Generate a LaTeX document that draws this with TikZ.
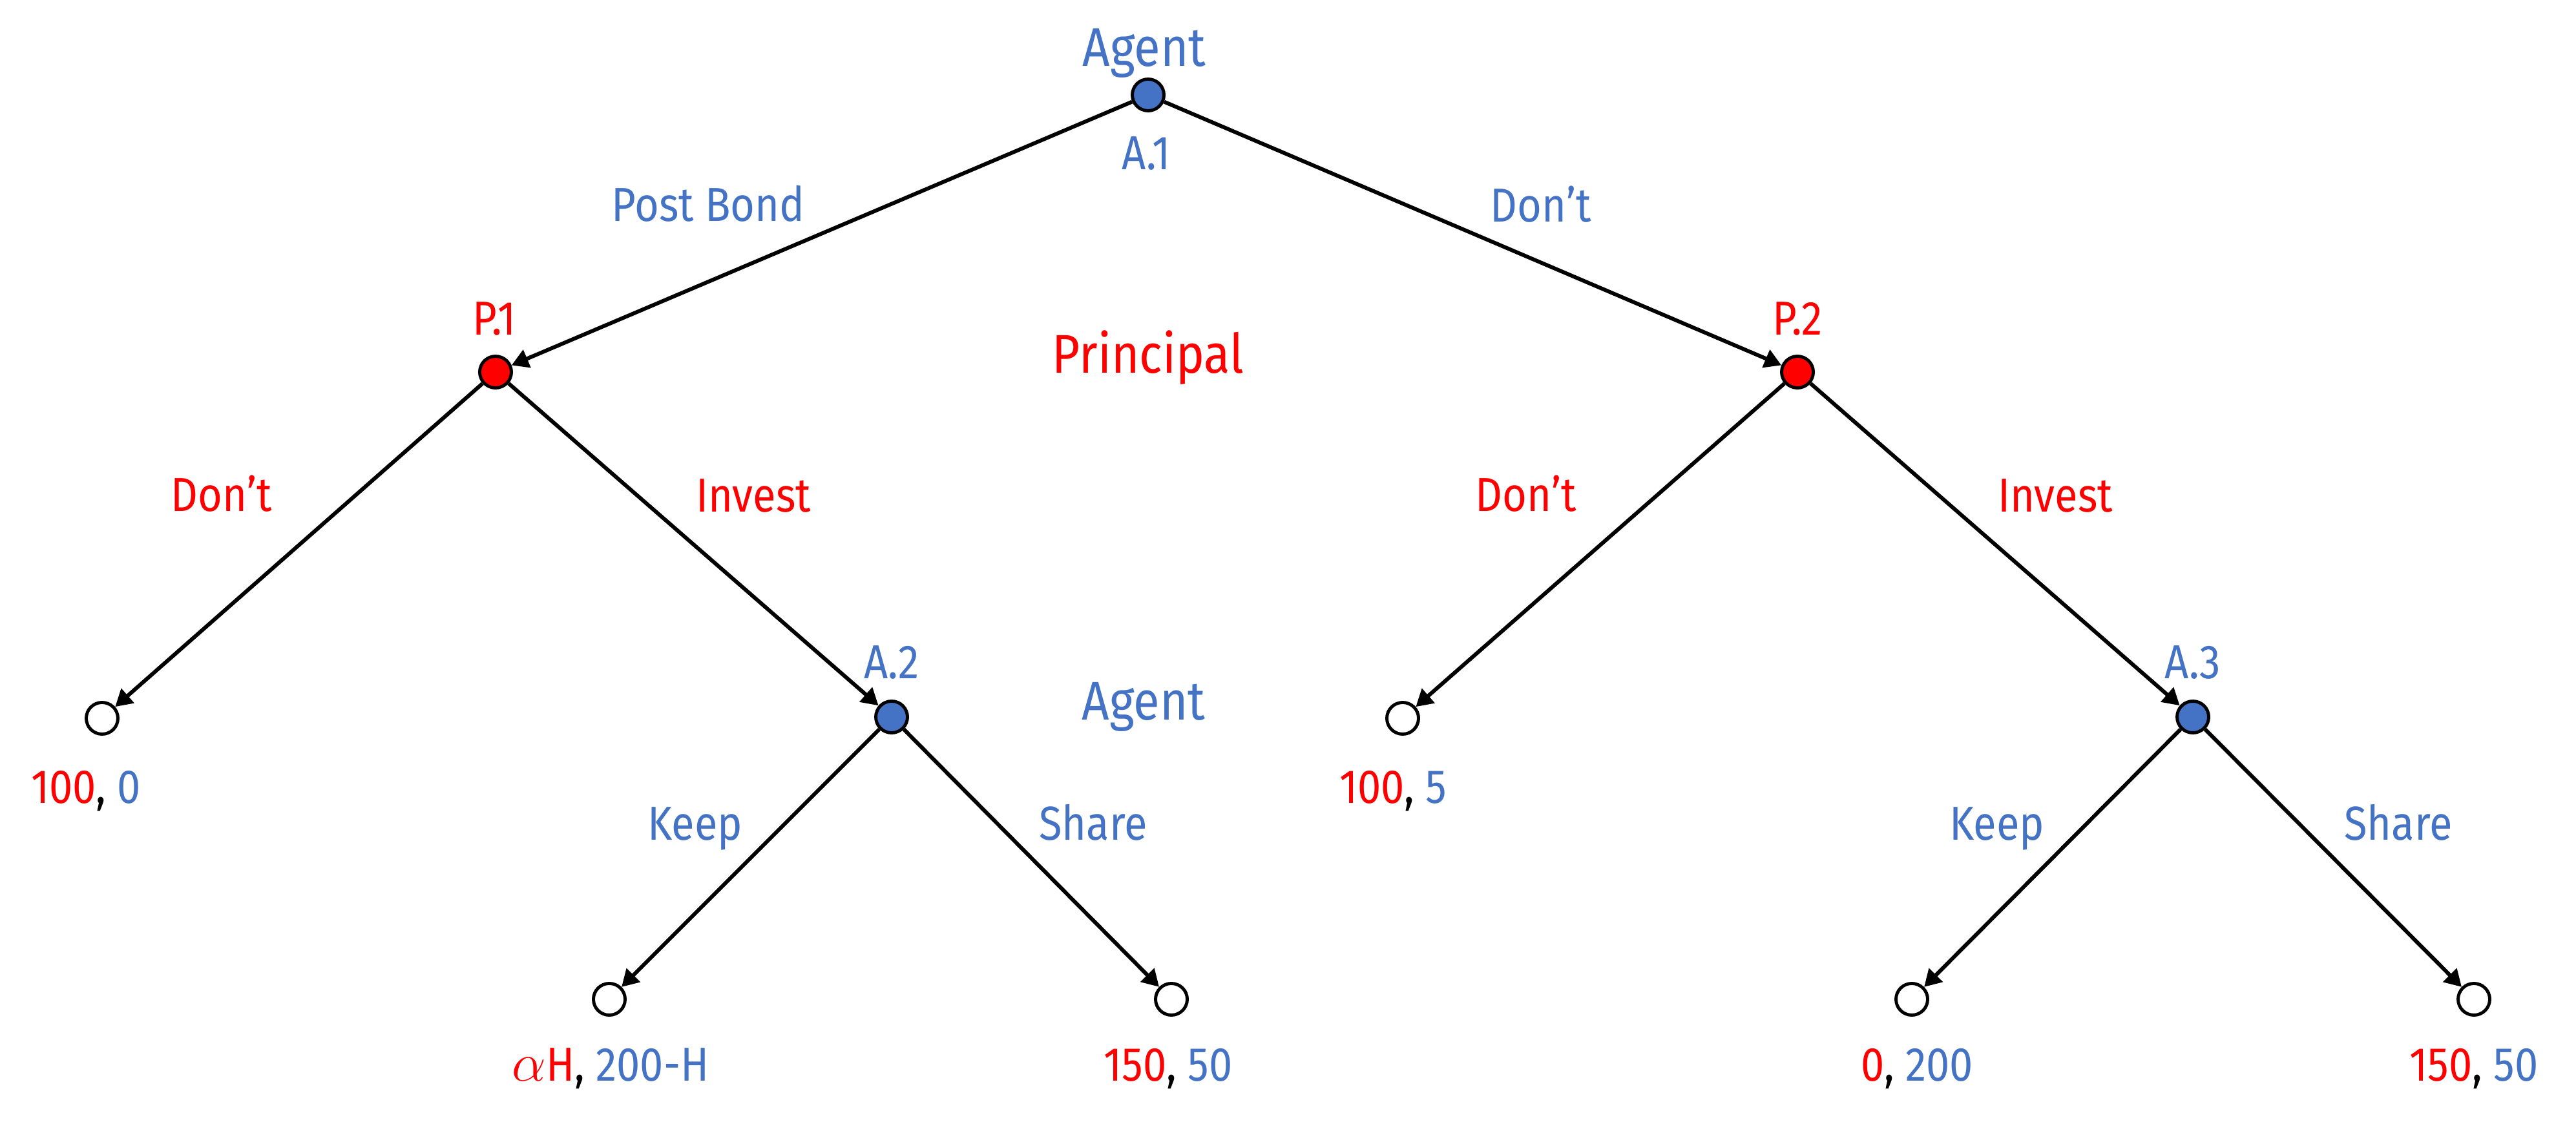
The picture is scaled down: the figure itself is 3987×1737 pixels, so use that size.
\documentclass[tikz,border=0pt]{standalone}
\usepackage{fontspec}
\setmainfont[FakeStretch=0.88]{Fira Sans}
\usetikzlibrary{arrows.meta}
\definecolor{ablue}{HTML}{4472C4}
\definecolor{pred}{HTML}{FF0000}
\begin{document}
\begin{tikzpicture}[x=0.01cm,y=-0.01cm,
  dec/.style={circle,draw=black,line width=1.4pt,minimum size=0.49cm,inner sep=0pt},
  anode/.style={dec,fill=ablue},
  pnode/.style={dec,fill=pred},
  leaf/.style={dec,fill=white},
  move/.style={line width=1.7pt,-{Triangle[length=0.26cm,width=0.29cm]}},
  lbl/.style={anchor=base,inner sep=0pt,font=\fontsize{21}{25}\selectfont},
  big/.style={anchor=base,inner sep=0pt,font=\fontsize{24}{29}\selectfont},
]
\useasboundingbox (0,0) rectangle (3987,1737);
% decision nodes
\node[anode] (A1) at (1777,147) {};
\node[pnode] (P1) at (767,576) {};
\node[pnode] (P2) at (2782,576) {};
\node[anode] (A2) at (1380,1110) {};
\node[anode] (A3) at (3394,1110) {};
% terminal nodes
\node[leaf] (L1) at (158,1112) {};
\node[leaf] (L2) at (2171,1112) {};
\node[leaf] (L3) at (943,1547) {};
\node[leaf] (L4) at (1813,1547) {};
\node[leaf] (L5) at (2959,1547) {};
\node[leaf] (L6) at (3829,1547) {};
% moves
\draw[move] (A1) -- (P1);
\draw[move] (A1) -- (P2);
\draw[move] (P1) -- (L1);
\draw[move] (P1) -- (A2);
\draw[move] (P2) -- (L2);
\draw[move] (P2) -- (A3);
\draw[move] (A2) -- (L3);
\draw[move] (A2) -- (L4);
\draw[move] (A3) -- (L5);
\draw[move] (A3) -- (L6);
% player labels
\node[big,text=ablue] (tAgent1) at (1771,103) {Agent};
\node[big,text=pred] (tPrin) at (1777,578) {Principal};
\node[big,text=ablue] (tAgent2) at (1770,1114) {Agent};
% node labels
\node[lbl,text=ablue] (tA1) at (1774,263) {A.1};
\node[lbl,text=pred] (tP1) at (765,519) {P.1};
\node[lbl,text=pred] (tP2) at (2782,519) {P.2};
\node[lbl,text=ablue] (tA2) at (1380,1050) {A.2};
\node[lbl,text=ablue] (tA3) at (3394,1050) {A.3};
% action labels
\node[lbl,text=ablue] (tPB) at (1096,343) {Post Bond};
\node[lbl,text=ablue] (tDA) at (2385,344) {Don’t};
\node[lbl,text=pred] (tDP1) at (343,791) {Don’t};
\node[lbl,text=pred] (tIP1) at (1166,793) {Invest};
\node[lbl,text=pred] (tDP2) at (2362,791) {Don’t};
\node[lbl,text=pred] (tIP2) at (3181,793) {Invest};
\node[lbl,text=ablue] (tK2) at (1076,1300) {Keep};
\node[lbl,text=ablue] (tS2) at (1692,1300) {Share};
\node[lbl,text=ablue] (tK3) at (3091,1300) {Keep};
\node[lbl,text=ablue] (tS3) at (3712,1300) {Share};
% payoffs
\node[lbl] (pL1) at (133,1243) {\textcolor{pred}{100}, \textcolor{ablue}{0}};
\node[lbl] (pL2) at (2156,1243) {\textcolor{pred}{100}, \textcolor{ablue}{5}};
\node[lbl] (pL3) at (945,1673) {\textcolor{pred}{\scalebox{1.15}{$\alpha$}H}, \textcolor{ablue}{200-H}};
\node[lbl] (pL4) at (1808,1673) {\textcolor{pred}{150}, \textcolor{ablue}{50}};
\node[lbl] (pL5) at (2967,1673) {\textcolor{pred}{0}, \textcolor{ablue}{200}};
\node[lbl] (pL6) at (3829,1673) {\textcolor{pred}{150}, \textcolor{ablue}{50}};
\end{tikzpicture}
\end{document}
